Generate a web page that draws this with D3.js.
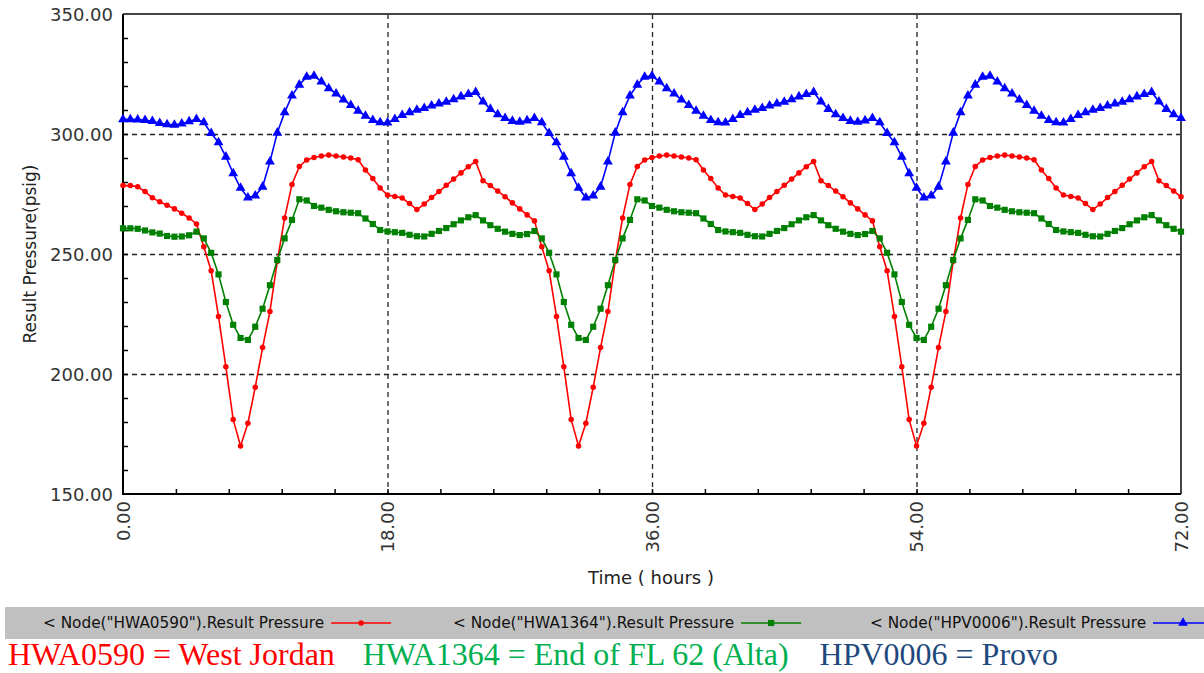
<!DOCTYPE html>
<meta charset="utf-8">
<style>
    body { margin: 0; background: #fff; }
    svg text { font-family: "DejaVu Sans", sans-serif; }
    .tick text { fill: #333; font-size: 18px; }
    .grid line { stroke: #222; stroke-dasharray: 5,4; stroke-width: 1.3; }
    .grid path, .minor path { display: none; }
    .minor line { stroke: #000; stroke-width: 1.5; }
</style>
<svg width="1204" height="673"></svg>
<script src="https://d3js.org/d3.v7.min.js"></script>
<script>

    // hours, one reading every half hour
    var hours = d3.range(145).map(function(i) { return i * 0.5; });

    var westJordan = [278.5, 278.5, 278.0, 276.0, 273.4, 271.8, 270.3, 268.8, 267.0, 265.0, 262.5,
        253.0, 243.0, 224.0, 203.0, 181.0, 170.0, 179.5, 194.5, 211.0, 226.0, 247.0, 265.0, 279.0, 286.5, 289.2,
        290.2, 290.8, 291.2, 290.8, 290.4, 290.0, 289.3, 285.0, 281.5, 277.5, 274.6, 274.0, 273.3, 271.0, 268.5,
        270.8, 273.5, 276.0, 278.6, 281.2,
        283.8, 286.4, 288.5, 280.5, 278.5, 276.2, 273.9, 271.3, 268.8, 266.3, 263.8,
        253.0, 243.0, 224.0, 203.0, 181.0, 170.0, 179.5, 194.5, 211.0, 226.0, 247.0, 265.0, 279.0, 286.5, 289.2,
        290.2, 290.8, 291.2, 290.8, 290.4, 290.0, 289.3, 285.0, 281.5, 277.5, 274.6, 274.0, 273.3, 271.0, 268.5,
        270.8, 273.5, 276.0, 278.6, 281.2,
        283.8, 286.4, 288.5, 280.5, 278.5, 276.2, 273.9, 271.3, 268.8, 266.3, 263.8,
        253.0, 243.0, 224.0, 203.0, 181.0, 170.0, 179.5, 194.5, 211.0, 226.0, 247.0, 265.0, 279.0, 286.5, 289.2,
        290.2, 290.8, 291.2, 290.8, 290.4, 290.0, 289.3, 285.0, 281.5, 277.5, 274.6, 274.0, 273.3, 271.0, 268.5,
        270.8, 273.5, 276.0, 278.6, 281.2,
        283.8, 286.4, 288.5, 280.5, 278.5, 276.2, 273.9];

    var alta = [260.7, 260.7, 260.5, 259.8, 259.0, 258.5, 257.5, 257.2, 257.3, 257.8, 259.3,
        256.5, 250.5, 241.5, 230.0, 220.5, 215.0, 214.2, 219.7, 227.2, 237.0, 247.5, 256.5, 264.2, 272.8, 272.3,
        270.0, 269.3, 268.4, 267.8, 267.4, 267.2, 267.0, 264.8, 262.5, 260.0, 259.4, 259.1, 258.8, 258.0, 257.4,
        257.3, 258.4, 259.6, 260.8, 262.4,
        264.0, 265.3, 266.2, 264.0, 262.0, 260.5, 259.3, 258.4, 257.9, 258.3, 259.6,
        256.5, 250.5, 241.5, 230.0, 220.5, 215.0, 214.2, 219.7, 227.2, 237.0, 247.5, 256.5, 264.2, 272.8, 272.3,
        270.0, 269.3, 268.4, 267.8, 267.4, 267.2, 267.0, 264.8, 262.5, 260.0, 259.4, 259.1, 258.8, 258.0, 257.4,
        257.3, 258.4, 259.6, 260.8, 262.4,
        264.0, 265.3, 266.2, 264.0, 262.0, 260.5, 259.3, 258.4, 257.9, 258.3, 259.6,
        256.5, 250.5, 241.5, 230.0, 220.5, 215.0, 214.2, 219.7, 227.2, 237.0, 247.5, 256.5, 264.2, 272.8, 272.3,
        270.0, 269.3, 268.4, 267.8, 267.4, 267.2, 267.0, 264.8, 262.5, 260.0, 259.4, 259.1, 258.8, 258.0, 257.4,
        257.3, 258.4, 259.6, 260.8, 262.4,
        264.0, 265.3, 266.2, 264.0, 262.0, 260.5, 259.3];

    var provo = [306.1, 306.1, 306.0, 305.8, 305.3, 304.5, 304.0, 303.8, 304.3, 305.2, 306.2,
        304.8, 300.3, 296.5, 290.5, 283.6, 277.5, 273.5, 274.3, 278.0, 288.5, 300.5, 309.0, 316.0, 320.5, 323.8,
        324.2, 321.8, 319.0, 316.8, 314.3, 312.0, 309.6, 307.5, 305.8, 304.8, 304.7, 306.2, 307.8, 309.0, 310.0,
        310.8, 311.8, 312.6, 313.4, 314.4,
        315.6, 316.6, 317.4, 313.5, 310.4, 308.2, 306.6, 305.4, 305.0, 305.6, 306.6,
        304.8, 300.3, 296.5, 290.5, 283.6, 277.5, 273.5, 274.3, 278.0, 288.5, 300.5, 309.0, 316.0, 320.5, 323.8,
        324.2, 321.8, 319.0, 316.8, 314.3, 312.0, 309.6, 307.5, 305.8, 304.8, 304.7, 306.2, 307.8, 309.0, 310.0,
        310.8, 311.8, 312.6, 313.4, 314.4,
        315.6, 316.6, 317.4, 313.5, 310.4, 308.2, 306.6, 305.4, 305.0, 305.6, 306.6,
        304.8, 300.3, 296.5, 290.5, 283.6, 277.5, 273.5, 274.3, 278.0, 288.5, 300.5, 309.0, 316.0, 320.5, 323.8,
        324.2, 321.8, 319.0, 316.8, 314.3, 312.0, 309.6, 307.5, 305.8, 304.8, 304.7, 306.2, 307.8, 309.0, 310.0,
        310.8, 311.8, 312.6, 313.4, 314.4,
        315.6, 316.6, 317.4, 313.5, 310.4, 308.2, 306.6];

    var yTicks = [150, 200, 250, 300, 350],
        xTicks = [0, 18, 36, 54, 72],
        legendNames = ['< Node("HWA0590").Result Pressure', '< Node("HWA1364").Result Pressure', '< Node("HPV0006").Result Pressure'],
        captions = ["HWA0590 = West Jordan", "HWA1364 = End of FL 62 (Alta)", "HPV0006 = Provo"];

    var svg = d3.select("svg"),
        pLeft = 123, pRight = 1181, pTop = 14, pBottom = 494;

    var x = d3.scaleLinear().domain([0, 72]).range([pLeft, pRight]),
        y = d3.scaleLinear().domain([150, 350]).range([pBottom, pTop]);

    // dashed grid
    svg.append("g").attr("class", "grid")
        .attr("transform", "translate(" + pLeft + ",0)")
        .call(d3.axisLeft(y).tickValues([200, 250, 300]).tickSize(-(pRight - pLeft)).tickFormat(""));
    svg.append("g").attr("class", "grid")
        .attr("transform", "translate(0," + pTop + ")")
        .call(d3.axisBottom(x).tickValues([18, 36, 54]).tickSize(pBottom - pTop).tickFormat(""));

    // minor ticks pointing into the plot
    svg.append("g").attr("class", "minor")
        .attr("transform", "translate(" + pLeft + ",0)")
        .call(d3.axisRight(y).tickValues(d3.range(160, 350, 10)).tickSize(5).tickFormat(""));
    svg.append("g").attr("class", "minor")
        .attr("transform", "translate(0," + pBottom + ")")
        .call(d3.axisTop(x).tickValues(d3.range(3.6, 72, 3.6)).tickSize(5).tickFormat(""));

    // frame
    svg.append("path")
        .attr("d", "M" + pLeft + "," + pTop + "H" + pRight + "V" + pBottom)
        .attr("fill", "none").attr("stroke", "#444").attr("stroke-width", 2);
    svg.append("path")
        .attr("d", "M" + pLeft + "," + pTop + "V" + pBottom + "H" + pRight)
        .attr("fill", "none").attr("stroke", "#000").attr("stroke-width", 2);

    // tick labels
    var yAxis = svg.append("g")
        .attr("transform", "translate(" + (pLeft - 10) + ",0)")
        .call(d3.axisLeft(y).tickValues(yTicks).tickSize(0).tickFormat(d3.format(".2f")));
    yAxis.select(".domain").remove();
    yAxis.selectAll("text").attr("x", 0).attr("dy", "0.35em");

    var xAxis = svg.append("g")
        .attr("transform", "translate(0," + pBottom + ")")
        .call(d3.axisBottom(x).tickValues(xTicks).tickSize(0).tickFormat(d3.format(".2f")));
    xAxis.select(".domain").remove();
    xAxis.selectAll("text")
        .attr("transform", "rotate(-90)")
        .attr("x", -7).attr("y", 0).attr("dy", "0.35em")
        .style("text-anchor", "end");

    // axis titles
    svg.append("text")
        .attr("x", 651).attr("y", 584)
        .attr("text-anchor", "middle").style("font-size", "18px").attr("fill", "#222")
        .text("Time ( hours )");
    svg.append("text")
        .attr("transform", "translate(36,254) rotate(-90)")
        .attr("text-anchor", "middle").style("font-size", "17px").attr("fill", "#222")
        .text("Result Pressure(psig)");

    // series
    var series = [
        {values: westJordan, color: "#ff0000", symbol: d3.symbolCircle, size: 24},
        {values: alta, color: "#008000", symbol: d3.symbolSquare, size: 38},
        {values: provo, color: "#0000ff", symbol: d3.symbolTriangle, size: 42}
    ];

    var line = d3.line()
        .x(function(d, i) { return x(hours[i]); })
        .y(function(d) { return y(d); });

    series.forEach(function(s) {
        var g = svg.append("g");
        g.append("path")
            .attr("d", line(s.values))
            .attr("fill", "none")
            .attr("stroke", s.color)
            .attr("stroke-width", 1.6);
        g.selectAll("path.pt")
            .data(s.values)
            .enter().append("path")
            .attr("class", "pt")
            .attr("transform", function(d, i) { return "translate(" + x(hours[i]) + "," + y(d) + ")"; })
            .attr("d", d3.symbol().type(s.symbol).size(s.size))
            .attr("fill", s.color);
    });

    // legend bar
    svg.append("rect")
        .attr("x", 5).attr("y", 607).attr("width", 1199).attr("height", 32)
        .attr("fill", "#c0c0c0");

    var legendX = [43, 453, 870];
    series.forEach(function(s, i) {
        var g = svg.append("g").attr("transform", "translate(" + legendX[i] + ",623)");
        var t = g.append("text")
            .attr("dy", "0.35em")
            .style("font-size", "15.3px")
            .attr("fill", "#111")
            .text(legendNames[i]);
        var w = t.node().getComputedTextLength();
        g.append("line")
            .attr("x1", w + 7).attr("x2", w + 67)
            .attr("stroke", s.color).attr("stroke-width", 1.5);
        g.append("path")
            .attr("transform", "translate(" + (w + 37) + ",0)")
            .attr("d", d3.symbol().type(s.symbol).size(s.size))
            .attr("fill", s.color);
    });

    // caption
    var capColors = ["#ff0000", "#00b050", "#1f497d"],
        capGap = [0, 28, 31];
    svg.append("text")
        .attr("x", 8).attr("y", 665)
        .style("font-family", "'Liberation Serif', serif")
        .style("font-size", "32px")
        .selectAll("tspan")
        .data(captions)
        .enter().append("tspan")
        .attr("dx", function(d, i) { return capGap[i]; })
        .attr("fill", function(d, i) { return capColors[i]; })
        .text(function(d) { return d; });
</script>
